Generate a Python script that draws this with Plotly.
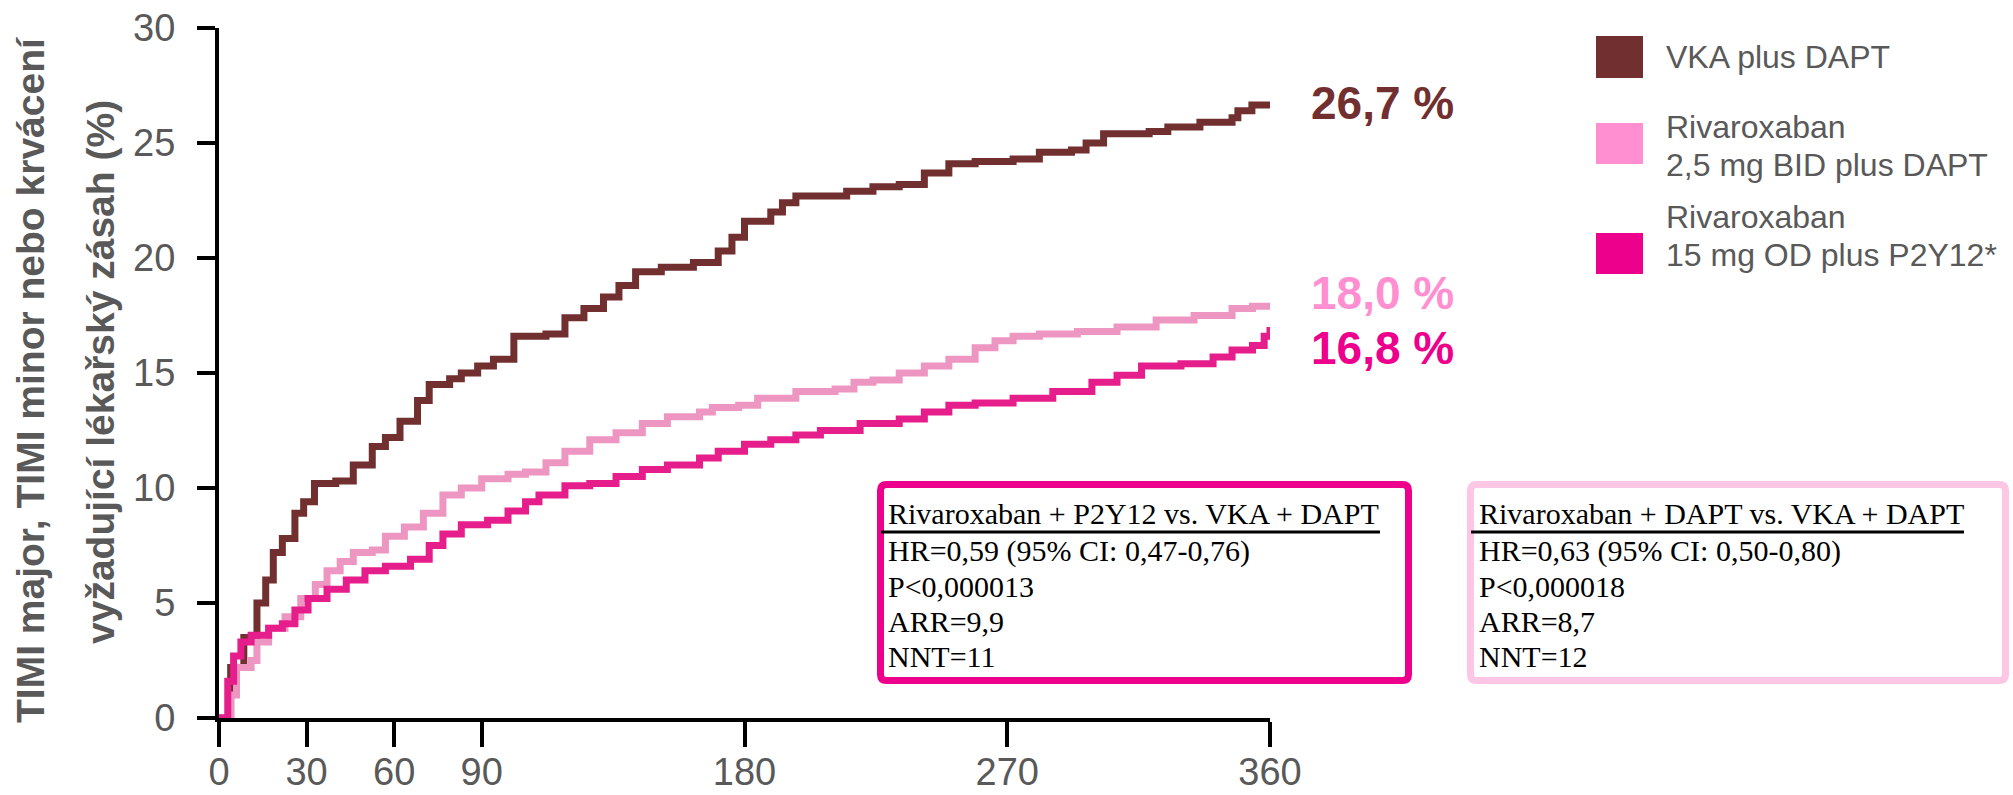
import plotly.graph_objects as go

# ---------------- data ----------------
vka_days = [0, 4, 8.5, 13, 16, 18.6, 21.7, 26, 29, 32.7, 40, 46, 52.5, 57, 62, 68, 72, 79, 83, 88.6, 94,
            101, 112, 118.5, 125, 131.7, 137, 142.7, 151.5, 162.5, 171, 175.7, 180, 189, 193, 197.6, 206,
            215, 224, 233, 241.6, 250, 259, 272, 281, 292, 297, 303, 318.6, 325, 336, 347, 349, 353.8, 360]
vka_vals = [0, 2.2, 3.5, 5.0, 6.0, 7.2, 7.8, 8.9, 9.4, 10.2, 10.3, 11.0, 11.8, 12.2, 12.9, 13.8, 14.5, 14.75,
            15.0, 15.3, 15.6, 16.6, 16.7, 17.4, 17.8, 18.3, 18.8, 19.4, 19.6, 19.8, 20.3, 20.9, 21.6, 22.0,
            22.4, 22.7, 22.7, 22.9, 23.1, 23.2, 23.7, 24.1, 24.2, 24.3, 24.6, 24.7, 25.0, 25.4, 25.5, 25.7,
            25.9, 26.1, 26.4, 26.65, 26.7]

riva_dapt_days = [0, 4, 6, 11, 13, 17, 22.6, 28, 33, 37, 41.5, 46, 52.5, 57, 63.5, 70, 76.7, 83, 90, 99, 105,
                  112, 118.5, 127, 136, 145, 153.6, 164.6, 169, 178, 184.5, 197.6, 211, 217.5, 224, 233, 241.6,
                  250, 259, 265.8, 272, 281, 294, 307.6, 321, 334, 347, 354, 360]
riva_dapt_vals = [0, 1.0, 2.2, 2.5, 3.3, 3.9, 4.4, 5.2, 5.8, 6.4, 6.8, 7.2, 7.3, 7.9, 8.3, 8.9, 9.7, 10.0, 10.4,
                  10.6, 10.7, 11.1, 11.6, 12.1, 12.4, 12.8, 13.1, 13.3, 13.5, 13.6, 13.9, 14.2, 14.3, 14.6, 14.7,
                  15.0, 15.3, 15.6, 16.1, 16.4, 16.6, 16.7, 16.8, 17.0, 17.3, 17.5, 17.8, 17.9, 18.0]

riva_p2y12_days = [0, 3, 5, 7.5, 11, 17, 21.7, 26, 30.5, 37, 43.6, 50, 57, 65.6, 72, 76.7, 83, 92, 99, 105,
                   109.6, 118.5, 127, 136, 145, 153.6, 164.6, 171, 180, 189, 197.6, 206, 219.6, 233, 241.6, 250,
                   259, 272, 285.6, 299, 307.6, 316, 329.5, 340.5, 347, 354, 358, 360]
riva_p2y12_vals = [0, 1.6, 2.7, 3.3, 3.6, 3.9, 4.1, 4.7, 5.2, 5.6, 6.0, 6.4, 6.6, 6.9, 7.5, 8.0, 8.4, 8.6, 9.0,
                   9.4, 9.7, 10.1, 10.2, 10.5, 10.8, 11.0, 11.3, 11.6, 11.9, 12.1, 12.3, 12.5, 12.8, 13.0, 13.3,
                   13.6, 13.7, 13.9, 14.2, 14.6, 14.9, 15.3, 15.4, 15.7, 16.0, 16.2, 16.6, 17.0]

x_ticks = [0, 30, 60, 90, 180, 270, 360]
y_ticks = [0, 5, 10, 15, 20, 25, 30]

series_names = ["VKA plus DAPT", "Rivaroxaban<br>2,5 mg BID plus DAPT", "Rivaroxaban<br>15 mg OD plus P2Y12*"]
end_labels = ["26,7 %", "18,0 %", "16,8 %"]
end_values = [26.7, 18.0, 16.8]

box1_lines = ["Rivaroxaban + P2Y12 vs. VKA + DAPT", "HR=0,59 (95% CI: 0,47-0,76)", "P<0,000013", "ARR=9,9", "NNT=11"]
box2_lines = ["Rivaroxaban + DAPT vs. VKA + DAPT", "HR=0,63 (95% CI: 0,50-0,80)", "P<0,000018", "ARR=8,7", "NNT=12"]

# ---------------- style ----------------
W, H = 2013, 795
L, R, T, B = 219, W - 1270, 28, 77
PW, PH = W - L - R, H - T - B

def px(x):
    return (x - L) / PW

def py(y):
    return (H - B - y) / PH

GRAY = "#595959"
line_colors = ["#722F2F", "#EE96C2", "#E61E8C"]
key_colors = ["#722F2F", "#FF8FD1", "#EC008C"]
SANS = "Liberation Sans, Arial, sans-serif"
SERIF = "Liberation Serif, Times New Roman, serif"

fig = go.Figure()
for d, v, c, n in [(vka_days, vka_vals, line_colors[0], series_names[0]),
                   (riva_dapt_days, riva_dapt_vals, line_colors[1], series_names[1]),
                   (riva_p2y12_days, riva_p2y12_vals, line_colors[2], series_names[2])]:
    fig.add_trace(go.Scatter(x=d, y=v, mode="lines", line=dict(color=c, width=7, shape="hv"),
                             name=n, showlegend=False))

shapes = []
annotations = []

# end labels
label_y_px = [103, 293, 348]
for lab, col, ypx in zip(end_labels, key_colors, label_y_px):
    annotations.append(dict(x=px(1309), y=py(ypx), xref="paper", yref="paper", text=lab, showarrow=False,
                            xanchor="left", yanchor="middle",
                            font=dict(family=SANS, size=46, color=col, weight="bold")))

# legend
sq = [(36, 78), (123, 164), (233, 274)]
for (y0, y1), col in zip(sq, key_colors):
    shapes.append(dict(type="rect", xref="paper", yref="paper", x0=px(1596), x1=px(1643),
                       y0=py(y1), y1=py(y0), fillcolor=col, line=dict(width=0)))
leg_text = [("VKA plus DAPT", 57), ("Rivaroxaban", 127), ("2,5 mg BID plus DAPT", 165),
            ("Rivaroxaban", 217), ("15 mg OD plus P2Y12*", 255)]
for t, ypx in leg_text:
    annotations.append(dict(x=px(1664), y=py(ypx), xref="paper", yref="paper", text=t, showarrow=False,
                            xanchor="left", yanchor="middle", font=dict(family=SANS, size=32, color=GRAY)))

# stat boxes
def rounded_rect(x0, y0, x1, y1, r):
    X0, X1 = px(x0), px(x1)
    Y0, Y1 = py(y0), py(y1)
    rx, ry = r / PW, r / PH
    return (f"M {X0+rx},{Y0} L {X1-rx},{Y0} Q {X1},{Y0} {X1},{Y0-ry} "
            f"L {X1},{Y1+ry} Q {X1},{Y1} {X1-rx},{Y1} L {X0+rx},{Y1} Q {X0},{Y1} {X0},{Y1+ry} "
            f"L {X0},{Y0-ry} Q {X0},{Y0} {X0+rx},{Y0} Z")

boxes = [(877, 481, 1412, 684, "#EC008C", box1_lines, 886, 881, 1380),
         (1467, 481, 2009, 684, "#FDC6E4", box2_lines, 1477, 1471, 1964)]
line_y = [513, 551, 586, 621, 656]
for x0, y0, x1, y1, col, lines, tx, ux0, ux1 in boxes:
    shapes.append(dict(type="path", xref="paper", yref="paper", path=rounded_rect(x0 + 3.5, y0 + 3.5, x1 - 3.5, y1 - 3.5, 6),
                       line=dict(color=col, width=7), fillcolor="white"))
    shapes.append(dict(type="line", xref="paper", yref="paper", x0=px(ux0), x1=px(ux1), y0=py(532), y1=py(532),
                       line=dict(color="black", width=3)))
    for t, ypx in zip(lines, line_y):
        annotations.append(dict(x=px(tx), y=py(ypx), xref="paper", yref="paper", text=t, showarrow=False,
                                xanchor="left", yanchor="middle", font=dict(family=SERIF, size=30, color="black")))

# y-axis title (two lines)
annotations.append(dict(x=px(30), y=py(380), xref="paper", yref="paper", text="TIMI major, TIMI minor nebo krvácení",
                        showarrow=False, textangle=-90, xanchor="center", yanchor="middle",
                        font=dict(family=SANS, size=39, color=GRAY, weight="bold")))
annotations.append(dict(x=px(100), y=py(372), xref="paper", yref="paper", text="vyžadující lékařský zásah (%)",
                        showarrow=False, textangle=-90, xanchor="center", yanchor="middle",
                        font=dict(family=SANS, size=39, color=GRAY, weight="bold")))

fig.update_layout(
    width=W, height=H, margin=dict(l=L, r=R, t=T, b=B, autoexpand=False),
    paper_bgcolor="white", plot_bgcolor="white",
    shapes=shapes, annotations=annotations, showlegend=False,
    xaxis=dict(range=[0, 360], tickvals=x_ticks, ticktext=[str(v) for v in x_ticks], showgrid=False,
               zeroline=False, showline=True, linecolor="black", linewidth=4, automargin=False,
               ticks="outside", ticklen=25, tickwidth=4, tickcolor="black",
               tickfont=dict(family=SANS, size=38, color=GRAY), ticklabelstandoff=-8),
    yaxis=dict(range=[0, 30], tickvals=y_ticks, showgrid=False, zeroline=False, showline=True, automargin=False,
               linecolor="black", linewidth=4, ticks="outside", ticklen=18, tickwidth=4, tickcolor="black",
               tickfont=dict(family=SANS, size=38, color=GRAY), ticklabelstandoff=14),
)

fig.write_html("out.html")
